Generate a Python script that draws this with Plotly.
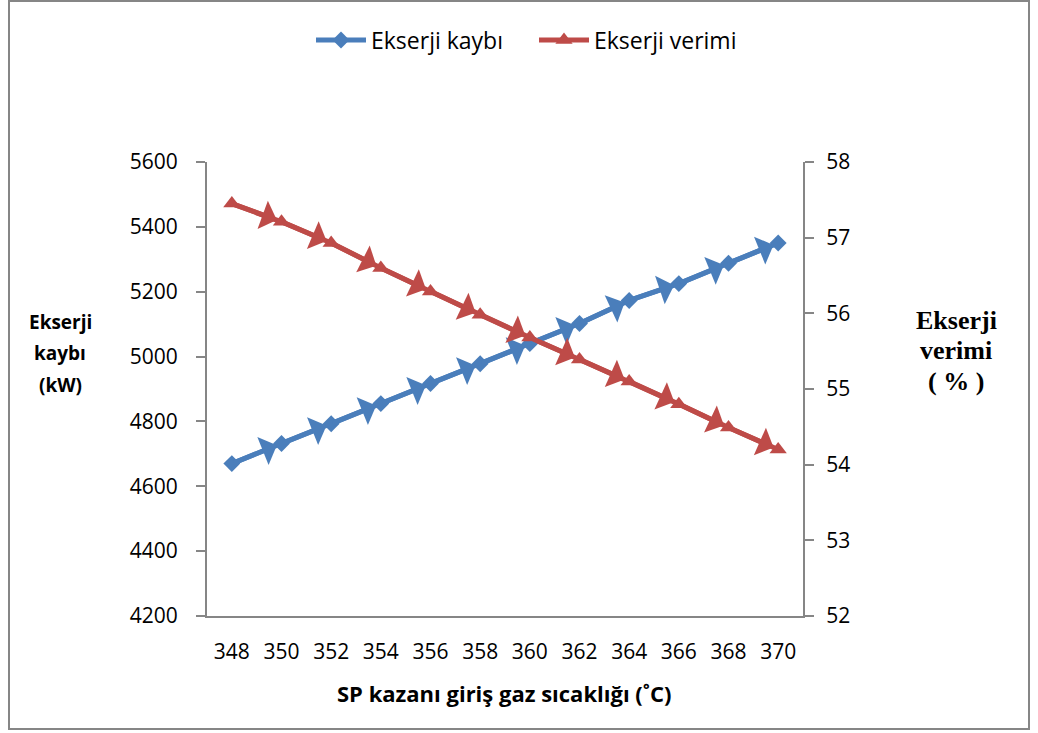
import plotly.graph_objects as go

temps = [348, 350, 352, 354, 356, 358, 360, 362, 364, 366, 368, 370]
ekserji_kaybi = [4670, 4732, 4793, 4855, 4917, 4978, 5040, 5102, 5173, 5225, 5288, 5350]
ekserji_verimi = [57.45, 57.21, 56.93, 56.60, 56.29, 55.98, 55.68, 55.39, 55.10, 54.80, 54.49, 54.20]

blue = "#4A7EBB"
red = "#BE4B48"
gray = "#868686"
font_main = "Open Sans"

W, H = 1038, 733
ml, mr, mt, mb = 207, 235, 162, 117
pw, ph = W - ml - mr, H - mt - mb


def px2paper(x, y):
    return (x - ml) / pw, 1 - (y - mt) / ph


xs = list(range(len(temps)))

fig = go.Figure()
fig.add_trace(go.Scatter(
    x=xs, y=ekserji_kaybi, name="Ekserji kaybı", mode="lines+markers",
    line=dict(color=blue, width=5),
    marker=dict(symbol="diamond", size=13, color=blue),
    yaxis="y"))
fig.add_trace(go.Scatter(
    x=xs, y=ekserji_verimi, name="Ekserji verimi", mode="lines+markers",
    line=dict(color=red, width=5),
    marker=dict(symbol="triangle-up", size=15, color=red),
    yaxis="y2"))

anns = []
for i in range(1, len(xs)):
    anns.append(dict(x=xs[i], y=ekserji_kaybi[i], ax=xs[i-1], ay=ekserji_kaybi[i-1],
                     xref="x", yref="y", axref="x", ayref="y", text="",
                     showarrow=True, arrowhead=1, arrowsize=1.0, arrowwidth=5,
                     arrowcolor=blue, standoff=5))
    anns.append(dict(x=xs[i], y=ekserji_verimi[i], ax=xs[i-1], ay=ekserji_verimi[i-1],
                     xref="x", yref="y2", axref="x", ayref="y2", text="",
                     showarrow=True, arrowhead=1, arrowsize=1.0, arrowwidth=5,
                     arrowcolor=red, standoff=5))


def add_text(text, x, y, family, size):
    px, py = px2paper(x, y)
    anns.append(dict(text=text, x=px, y=py, xref="paper", yref="paper",
                     xanchor="center", yanchor="middle", showarrow=False,
                     font=dict(family=family, size=size, color="black")))


for txt, yy in zip(["Ekserji", "kaybı", "(kW)"], [322, 353, 385]):
    add_text("<b>" + txt + "</b>", 60, yy, font_main, 19)
for txt, yy in zip(["Ekserji", "verimi", "( % )"], [320, 350, 381]):
    add_text("<b>" + txt + "</b>", 956, yy, "Liberation Serif", 26)
add_text("<b>SP kazanı giriş gaz sıcaklığı (˚C)</b>", 504, 693, font_main, 22)

lgx, lgy = px2paper(534, 40)

fig.update_layout(
    width=W, height=H,
    margin=dict(l=ml, r=mr, t=mt, b=mb),
    paper_bgcolor="white", plot_bgcolor="white",
    font=dict(family=font_main, size=21, color="black"),
    showlegend=True,
    annotations=anns,
    legend=dict(orientation="h", x=lgx, xanchor="center", y=lgy, yanchor="middle",
                font=dict(family=font_main, size=23, color="black"),
                itemwidth=50, entrywidth=158, entrywidthmode="pixels"),
    xaxis=dict(range=[-0.5, len(xs) - 0.5], tickvals=xs, ticktext=[str(t) for t in temps],
               showgrid=False, zeroline=False, showline=True, linecolor=gray, linewidth=2,
               ticks="outside", ticklen=16, tickcolor="rgba(0,0,0,0)"),
    yaxis=dict(range=[4200, 5600], dtick=200, tick0=4200, showgrid=False, zeroline=False,
               showline=True, linecolor=gray, linewidth=2, ticks="outside", ticklen=9,
               tickcolor=gray, tickwidth=2, ticklabelstandoff=14),
    yaxis2=dict(range=[52, 58], dtick=1, tick0=52, overlaying="y", side="right",
                showgrid=False, zeroline=False, showline=True, linecolor=gray, linewidth=2,
                ticks="outside", ticklen=9, tickcolor=gray, tickwidth=2, ticklabelstandoff=8),
    shapes=[dict(type="rect", xref="paper", yref="paper",
                 x0=(9 - ml) / pw, x1=(1029 - ml) / pw,
                 y0=1 - (729 - mt) / ph, y1=1 - (1 - mt) / ph,
                 line=dict(color=gray, width=2), layer="below")],
)

fig.write_html("out.html")
